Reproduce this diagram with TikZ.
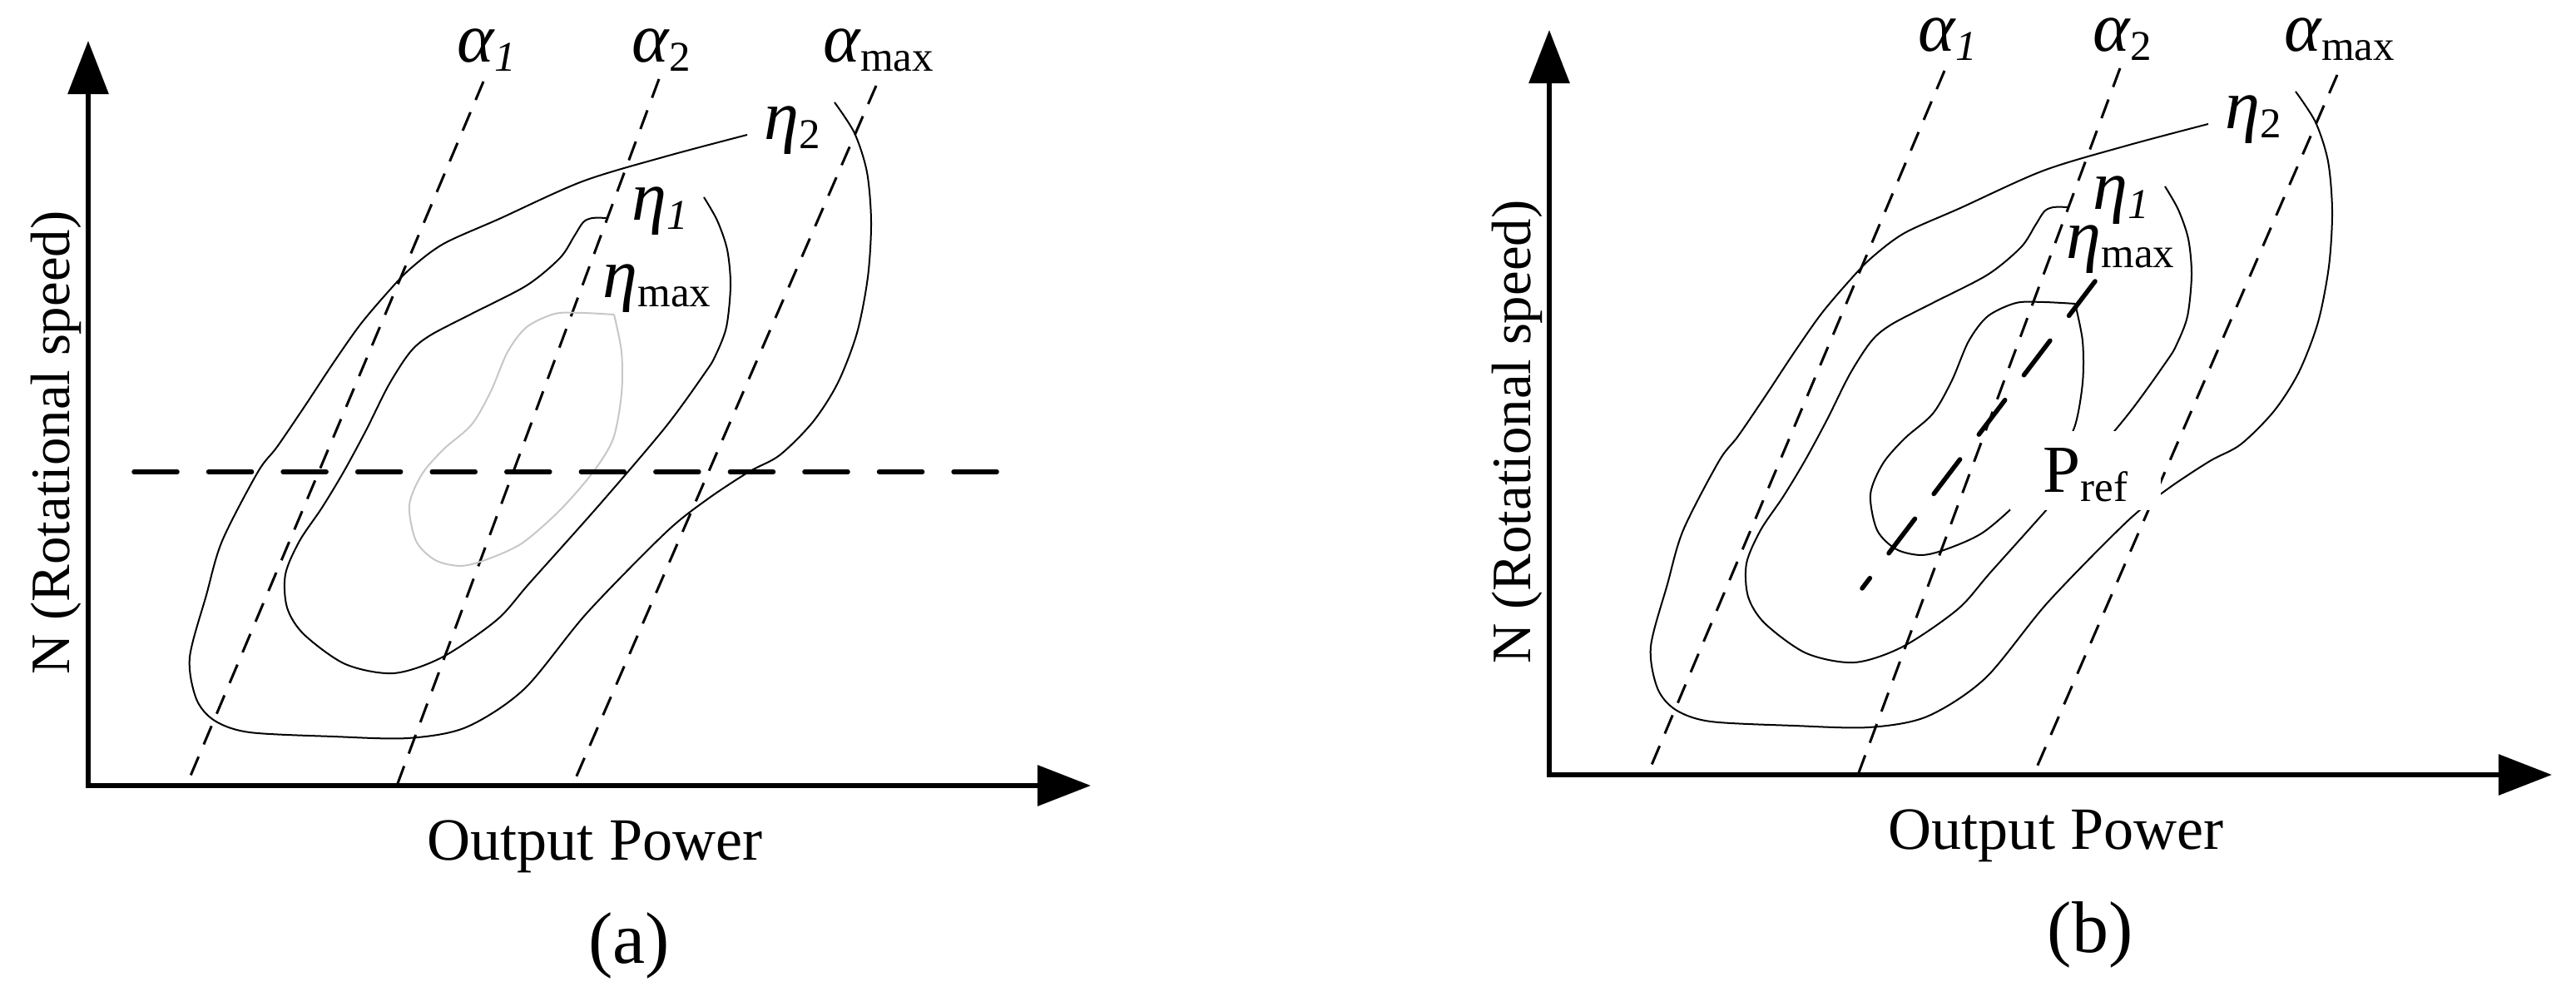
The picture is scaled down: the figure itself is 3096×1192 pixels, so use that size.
\documentclass[tikz,border=0pt]{standalone}
\usepackage{fontspec}
\setmainfont{Liberation Serif}
\usetikzlibrary{arrows.meta}

\newcommand{\grk}[1]{{\fontsize{24}{28}\selectfont\itshape #1}}
\newcommand{\lowsub}[1]{\raisebox{-0.11cm}{\fontsize{14.5}{17}\selectfont #1}}

\tikzset{
  axis/.style={line width=0.06cm,
    {Triangle[length=0.64cm,width=0.48cm]}-{Triangle[length=0.64cm,width=0.48cm]}},
  alphaline/.style={line width=0.03cm, dash pattern=on 0.24cm off 0.16cm},
  effcurve/.style={line width=0.02cm},
  cutline/.style={line width=0.055cm, line cap=round, dash pattern=on 0.52cm off 0.375cm},
  lbl/.style={inner sep=0pt, anchor=base west},
}

% one efficiency map: #1 panel tag, #2 colour of the eta_max contour
\newcommand{\effmap}[2]{%
  \draw[axis] (106,49) |- (1311,944);
  % constant alpha lines
  \draw[alphaline] (581,98) -- (224,944);
  \draw[alphaline] (792,95) -- (477,944);
  \draw[alphaline] (1053,103) -- (688,944);
  % eta_2
  \draw[effcurve] plot[smooth] coordinates {(898,162) (800,188) (700,218) (600,263)
    (533,293) (493,323) (467,350) (433,390) (400,437) (367,487) (333,537) (310,567)
    (267,650) (248,715) (228,790) (236,840) (258,866) (300,880) (400,885) (490,887)
    (560,874) (630,828) (705,737) (800,640) (850,600) (900,567) (937,547) (977,507)
    (1007,460) (1030,400) (1043,333) (1047,267) (1042,207) (1027,160) (1003,123)};
  % eta_1
  \draw[effcurve] plot[smooth] coordinates {(730,262) (712,262) (701,267) (690,284)
    (673,310) (633,343) (567,377) (517,403) (493,423) (467,463) (440,517) (413,567)
    (387,610) (360,650) (343,690) (345,730) (365,762) (415,798) (473,809) (531,790)
    (597,745) (637,700) (720,607) (800,513) (848,447) (860,427) (873,393) (878,343)
    (874,300) (862,265) (846,237)};
  % eta_max
  \draw[effcurve,draw=#2] plot[smooth] coordinates {(738,378) (747,423) (747,473)
    (737,527) (713,567) (673,613) (627,653) (583,673) (553,680) (523,673) (500,650)
    (492,607) (507,570) (533,540) (567,510) (590,470) (610,423) (633,393) (667,377)
    (700,376) (738,378)};
  \node[lbl] (alphaone#1) at (549,75) {\grk{α}\lowsub{\itshape 1}};
  \node[lbl] (alphatwo#1) at (759,75) {\grk{α}\lowsub{2}};
  \node[lbl] (alphamax#1) at (989,75) {\grk{α}\lowsub{max}};
  \node[lbl] (etatwo#1) at (918,168) {\grk{η}\lowsub{2}};
  \node[lbl] (etaone#1) at (759,265) {\grk{η}\lowsub{\itshape 1}};
  \node[anchor=base, font=\fontsize{20.5}{24}\selectfont] (xlab#1) at (715,1034) {Output Power};
  \node[anchor=base, rotate=90, font=\fontsize{19}{23}\selectfont] (ylab#1) at (83,532) {N (Rotational speed)};
  \node[font=\fontsize{25}{30}\selectfont] (cap#1) at (756,1136) {(#1)};
}

\begin{document}
\begin{tikzpicture}[x=0.01cm, y=-0.01cm]
\useasboundingbox (0,0) rectangle (3096,1192);
% (a) constant speed cut
\effmap{a}{black!22}
\node[lbl] (etamaxa) at (724,358) {\grk{η}\lowsub{max}};
\draw[cutline] (161,567) -- (1198,567);
% (b) reference power line
\begin{scope}[shift={(1756,-13)}]
\effmap{b}{black}
\node[lbl] (etamaxb) at (727,324) {\grk{η}\lowsub{max}};
\draw[cutline] (762,351) -- (482,720);
\node[lbl, fill=white, inner xsep=0.4cm, inner ysep=0pt, text height=0.74cm,
  text depth=0.21cm] (pref) at (659,605) {\fontsize{23}{27}\selectfont P\lowsub{ref}};
\end{scope}
\end{tikzpicture}
\end{document}
